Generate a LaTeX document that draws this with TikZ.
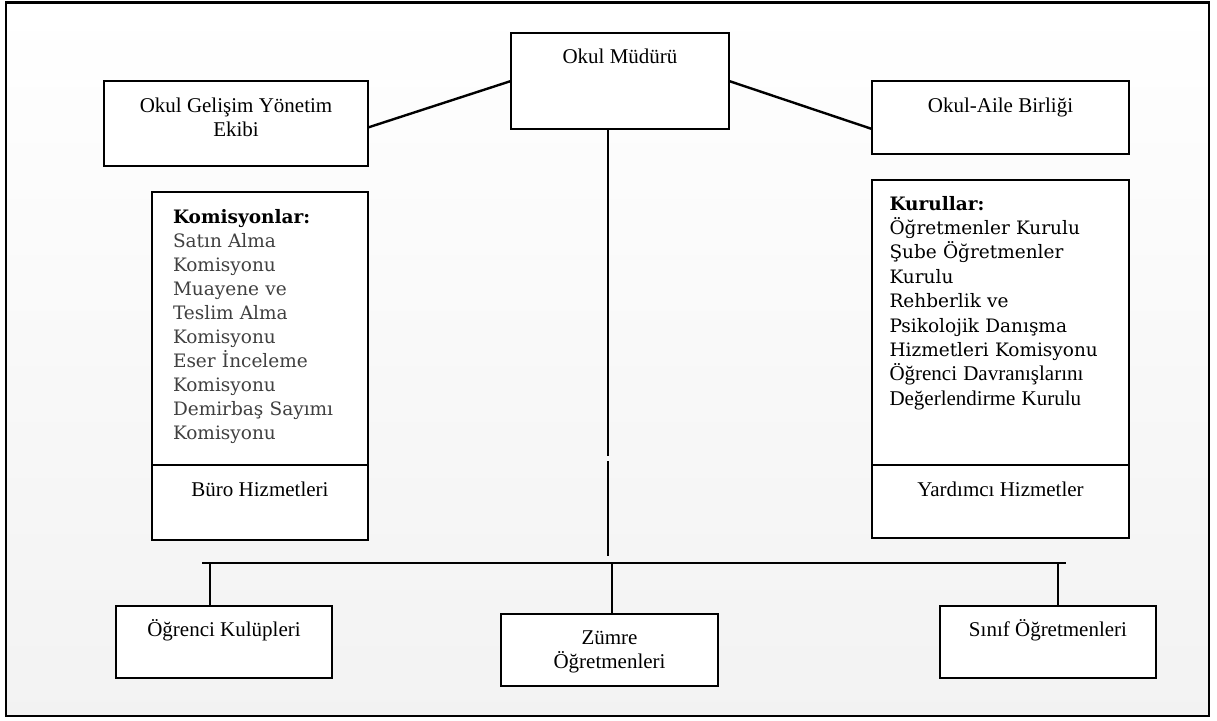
\documentclass[tikz,border=0pt]{standalone}
\usepackage{fontspec}
\setmainfont{Liberation Serif}
\newfontfamily\listafonte{DejaVu Serif}
\usetikzlibrary{calc,positioning}

\begin{document}
\begin{tikzpicture}[x=1pt, y=-1pt,
    caixa/.style={draw, fill=white, line width=2.4pt, inner sep=0pt, outer sep=0pt,
        align=center, font=\fontsize{21}{24}\selectfont},
    lista/.style={caixa, align=left, font=\listafonte\fontsize{18.5}{24}\selectfont},
    ligacao/.style={line width=2.4pt}]

    % fundo e moldura
    \useasboundingbox (0,0) rectangle (1217,720);
    \draw[line width=2.8pt, top color=white, bottom color=black!5] (6,2.5) rectangle (1209,716);

    % direção
    \node[caixa, minimum width=218pt, text height=30pt, text depth=66pt] (mudur) at (620,81) {Okul Müdürü};
    \node[caixa, minimum width=264pt, text height=55pt, text depth=30pt] (ogye) at (236,123.5) {Okul Gelişim Yönetim\\Ekibi};
    \node[caixa, minimum width=257pt, text height=31pt, text depth=42pt] (aile) at (1000.5,117.5) {Okul-Aile Birliği};

    % ligações da direção
    \draw[ligacao] ([yshift=-4pt]ogye.east) -- (mudur.west);
    \draw[ligacao] (mudur.east) -- ([yshift=-11.5pt]aile.west);

    % comissões e serviços de escritório
    \node[lista, text=black!75, minimum width=216pt, text width=174pt, text height=31pt, text depth=242pt] (komis) at (260,328.5)
        {\textcolor{black}{\bfseries Komisyonlar:}\\Satın Alma\\Komisyonu\\Muayene ve\\Teslim Alma\\Komisyonu\\Eser İnceleme\\Komisyonu\\Demirbaş Sayımı\\Komisyonu};
    \node[caixa, below=0pt of komis, minimum width=216pt, text height=31pt, text depth=44pt] (buro) {Büro Hizmetleri};

    % conselhos e serviços auxiliares
    \node[lista, font=\listafonte\fontsize{18.5}{24.4}\selectfont, minimum width=257pt, text width=222pt, text height=30pt, text depth=255pt] (kurul) at (1000.5,322.5)
        {{\bfseries Kurullar:}\\Öğretmenler Kurulu\\Şube Öğretmenler\\Kurulu\\Rehberlik ve\\Psikolojik Danışma\\Hizmetleri Komisyonu\\{\rmfamily\fontsize{21}{24.4}\selectfont Öğrenci Davranışlarını}\\{\rmfamily\fontsize{21}{24.4}\selectfont Değerlendirme Kurulu}};
    \node[caixa, below=0pt of kurul, minimum width=257pt, text height=31pt, text depth=42pt] (yardim) {Yardımcı Hizmetler};

    % tronco vertical
    \coordinate (quebraA) at (608,456);
    \coordinate (quebraB) at (608,461);
    \coordinate (tronco) at (608,556);
    \draw[ligacao] ([xshift=-12pt]mudur.south) -- (quebraA);
    \draw[ligacao] (quebraB) -- (tronco);

    % barra horizontal
    \coordinate (barraE) at (202,563);
    \coordinate (barraD) at (1066,563);
    \draw[ligacao] (barraE) -- (barraD);

    % unidades de baixo
    \node[caixa, minimum width=216pt, text height=30pt, text depth=42pt] (kulup) at (224,642) {Öğrenci Kulüpleri};
    \node[caixa, minimum width=217pt, text height=54pt, text depth=18pt] (zumre) at (609.5,650) {Zümre\\Öğretmenleri};
    \node[caixa, minimum width=216pt, text height=30pt, text depth=42pt] (sinif) at (1048,642) {Sınıf Öğretmenleri};

    % ligações à barra
    \draw[ligacao] ([xshift=-14pt]kulup.north) -- ([xshift=-14pt]kulup.north |- barraE);
    \draw[ligacao] ([xshift=2.5pt]zumre.north) -- ([xshift=2.5pt]zumre.north |- barraE);
    \draw[ligacao] ([xshift=10pt]sinif.north) -- ([xshift=10pt]sinif.north |- barraE);

\end{tikzpicture}
\end{document}
